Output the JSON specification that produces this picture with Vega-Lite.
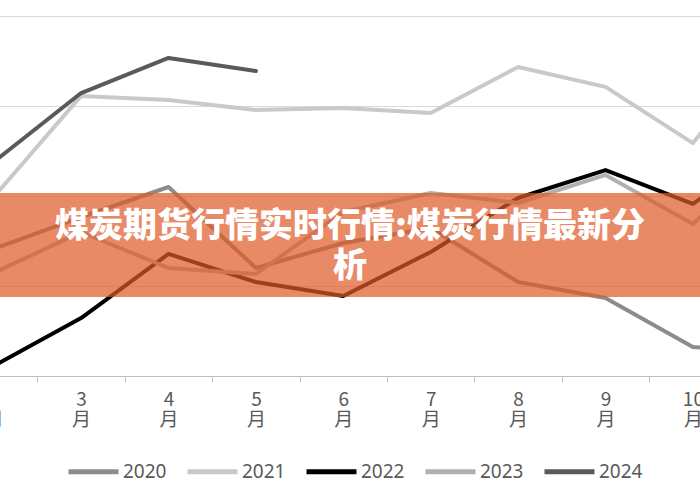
{
  "$schema": "https://vega.github.io/schema/vega-lite/v6.json",
  "width": 874,
  "height": 360,
  "autosize": "none",
  "padding": {"left": -50, "top": 16, "right": 0, "bottom": 114},
  "background": "white",
  "title": {
    "text": ["煤炭期货行情实时行情:煤炭行情最新分", "析"],
    "anchor": "middle",
    "frame": "group",
    "baseline": "top",
    "dx": -37,
    "dy": 272,
    "font": "Noto Sans CJK SC",
    "fontSize": 34,
    "fontWeight": 900,
    "color": "white",
    "lineHeight": 40,
    "zindex": 2
  },
  "layer": [
    {
      "data": {
        "values": [
          {"month": "2月", "year": "2020", "value": 706},
          {"month": "3月", "year": "2020", "value": 883},
          {"month": "4月", "year": "2020", "value": 1050},
          {"month": "5月", "year": "2020", "value": 600},
          {"month": "6月", "year": "2020", "value": 739},
          {"month": "7月", "year": "2020", "value": 822},
          {"month": "8月", "year": "2020", "value": 522},
          {"month": "9月", "year": "2020", "value": 433},
          {"month": "10月", "year": "2020", "value": 161},
          {"month": "11月", "year": "2020", "value": 133},
          {"month": "2月", "year": "2021", "value": 994},
          {"month": "3月", "year": "2021", "value": 1556},
          {"month": "4月", "year": "2021", "value": 1533},
          {"month": "5月", "year": "2021", "value": 1478},
          {"month": "6月", "year": "2021", "value": 1489},
          {"month": "7月", "year": "2021", "value": 1461},
          {"month": "8月", "year": "2021", "value": 1717},
          {"month": "9月", "year": "2021", "value": 1606},
          {"month": "10月", "year": "2021", "value": 1294},
          {"month": "11月", "year": "2021", "value": 1894},
          {"month": "2月", "year": "2022", "value": 56},
          {"month": "3月", "year": "2022", "value": 322},
          {"month": "4月", "year": "2022", "value": 678},
          {"month": "5月", "year": "2022", "value": 522},
          {"month": "6月", "year": "2022", "value": 444},
          {"month": "7月", "year": "2022", "value": 689},
          {"month": "8月", "year": "2022", "value": 989},
          {"month": "9月", "year": "2022", "value": 1144},
          {"month": "10月", "year": "2022", "value": 956},
          {"month": "11月", "year": "2022", "value": 1300},
          {"month": "2月", "year": "2023", "value": 572},
          {"month": "3月", "year": "2023", "value": 800},
          {"month": "4月", "year": "2023", "value": 600},
          {"month": "5月", "year": "2023", "value": 567},
          {"month": "6月", "year": "2023", "value": 911},
          {"month": "7月", "year": "2023", "value": 1017},
          {"month": "8月", "year": "2023", "value": 961},
          {"month": "9月", "year": "2023", "value": 1117},
          {"month": "10月", "year": "2023", "value": 844},
          {"month": "11月", "year": "2023", "value": 1311},
          {"month": "2月", "year": "2024", "value": 1189},
          {"month": "3月", "year": "2024", "value": 1572},
          {"month": "4月", "year": "2024", "value": 1767},
          {"month": "5月", "year": "2024", "value": 1694}
        ]
      },
      "mark": {"type": "line", "strokeWidth": 4, "strokeJoin": "round", "strokeCap": "round"},
      "encoding": {
        "x": {
          "field": "month",
          "type": "ordinal",
          "sort": ["2月", "3月", "4月", "5月", "6月", "7月", "8月", "9月", "10月", "11月"],
          "scale": {"type": "band", "paddingInner": 0, "paddingOuter": 0},
          "axis": {
            "title": null,
            "labelAngle": 0,
            "labelExpr": "[slice(datum.label, 0, length(datum.label) - 1), '月']",
            "labelFont": "Noto Sans CJK SC",
            "labelFontSize": 19,
            "labelColor": "#595959",
            "labelLineHeight": 20,
            "labelPadding": 8,
            "tickBand": "extent",
            "tickColor": "#bfbfbf",
            "tickSize": 6,
            "domainColor": "#bfbfbf",
            "grid": false
          }
        },
        "y": {
          "field": "value",
          "type": "quantitative",
          "scale": {"domain": [0, 2000], "nice": false},
          "axis": {
            "title": null,
            "labels": false,
            "ticks": false,
            "domain": false,
            "values": [0, 500, 1000, 1500, 2000],
            "grid": true,
            "gridColor": "#d9d9d9"
          }
        },
        "color": {
          "field": "year",
          "type": "nominal",
          "scale": {
            "domain": ["2020", "2021", "2022", "2023", "2024"],
            "range": ["#8c8c8c", "#c9c9c9", "#000000", "#b0b0b0", "#5a5a5a"]
          },
          "legend": {
            "title": null,
            "orient": "none",
            "legendX": 116,
            "legendY": 428,
            "direction": "horizontal",
            "symbolType": "stroke",
            "symbolSize": 2500,
            "symbolStrokeWidth": 5,
            "labelFont": "Noto Sans",
            "labelFontSize": 19,
            "labelColor": "#595959",
            "labelOffset": 2,
            "columnPadding": 10
          }
        }
      }
    },
    {
      "data": {"values": [{}]},
      "mark": {"type": "rect", "color": "#e05a28", "opacity": 0.71},
      "encoding": {
        "y": {"datum": 1017, "type": "quantitative"},
        "y2": {"datum": 439}
      }
    }
  ],
  "config": {
    "view": {"stroke": null}
  }
}
